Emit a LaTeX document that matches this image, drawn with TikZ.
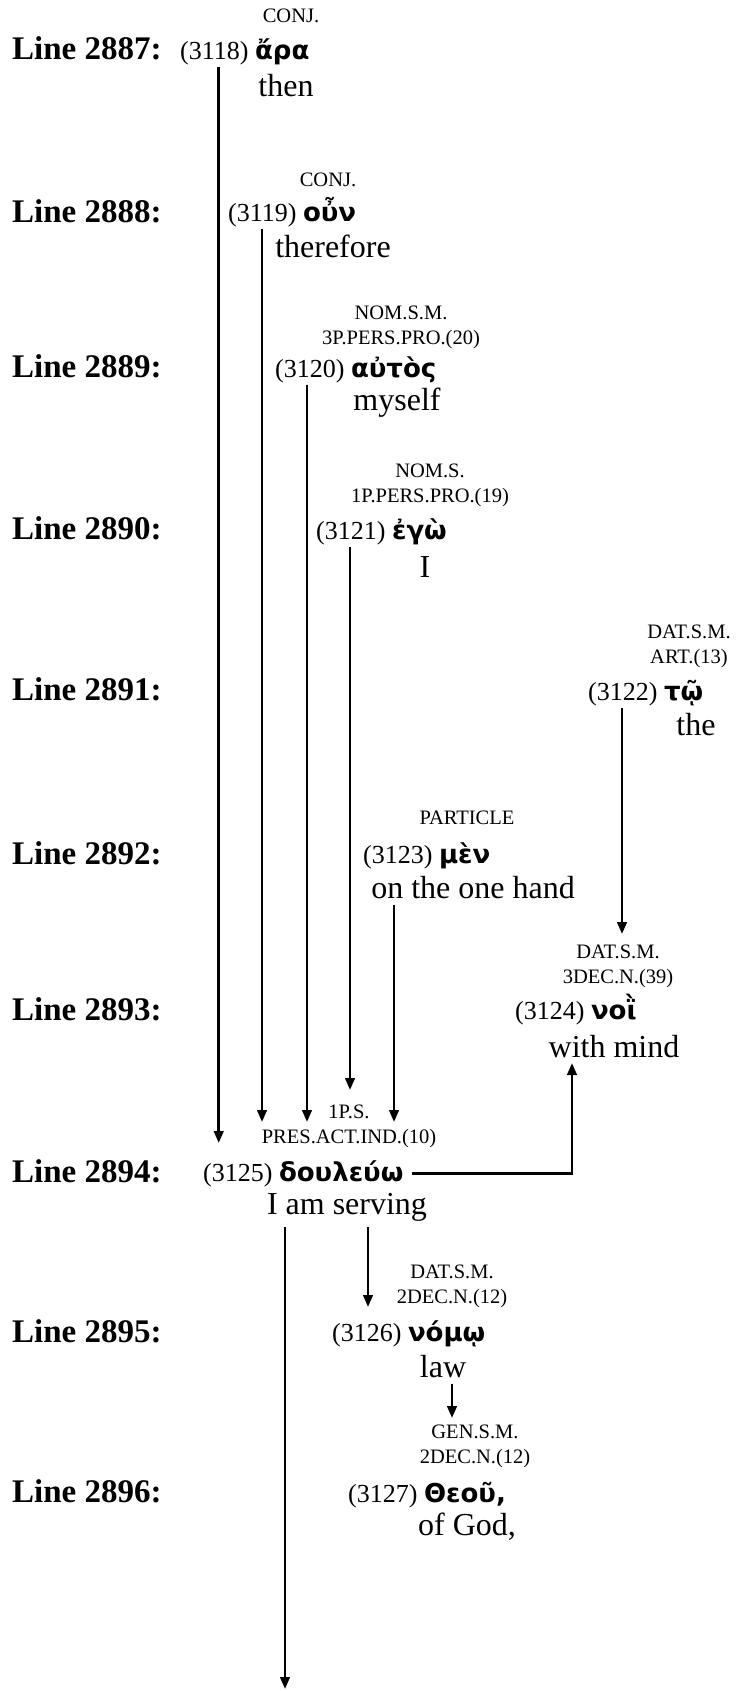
\documentclass[tikz,border=0pt]{standalone}
\usepackage{fontspec}
\setmainfont{Liberation Serif}
\newfontfamily\grkfont[Script=Greek]{DejaVu Sans}
\usetikzlibrary{arrows.meta}
\newcommand{\gk}[1]{{\grkfont\bfseries\fontsize{26}{30}\selectfont #1}}
\tikzset{
  % line numbers on the left
  lno/.style={anchor=base west, inner sep=0pt, font=\fontsize{33}{36}\selectfont\bfseries},
  % parsing tag above a word
  tg/.style={anchor=south, inner sep=0pt, align=center, font=\fontsize{20.5}{25}\selectfont},
  % word number + greek word
  hd/.style={anchor=base west, inner xsep=0pt, inner ysep=2pt, font=\fontsize{26}{30}\selectfont},
  % english gloss
  gl/.style={anchor=base, inner sep=0pt, font=\fontsize{32}{36}\selectfont},
  ar/.style={-{Triangle[length=12pt,width=9.5pt]}, line width=2.7pt}
}
\begin{document}
\begin{tikzpicture}[x=1pt,y=-1pt]
    \useasboundingbox (0,0) rectangle (736,1691);

    % ---- line labels ----
    \node[lno] (l2887) at (12,59.5) {Line 2887:};
    \node[lno] (l2888) at (12,222)  {Line 2888:};
    \node[lno] (l2889) at (12,377)  {Line 2889:};
    \node[lno] (l2890) at (12,539)  {Line 2890:};
    \node[lno] (l2891) at (12,700)  {Line 2891:};
    \node[lno] (l2892) at (12,864)  {Line 2892:};
    \node[lno] (l2893) at (12,1020) {Line 2893:};
    \node[lno] (l2894) at (12,1182) {Line 2894:};
    \node[lno] (l2895) at (12,1342) {Line 2895:};
    \node[lno] (l2896) at (12,1502) {Line 2896:};

    % ---- words: tag, head, gloss ----
    \node[tg] (t3118) at (291,23) {CONJ.};
    \node[hd] (h3118) at (180,59.5) {(3118) \gk{ἄρα}};
    \node[gl] (g3118) at (286,97) {then};

    \node[tg] (t3119) at (328,187) {CONJ.};
    \node[hd] (h3119) at (228,221) {(3119) \gk{οὖν}};
    \node[gl] (g3119) at (333,257) {therefore};

    \node[tg] (t3120) at (401,349) {NOM.S.M.\\3P.PERS.PRO.(20)};
    \node[hd] (h3120) at (275,377) {(3120) \gk{αὐτὸς}};
    \node[gl] (g3120) at (397,410) {myself};

    \node[tg] (t3121) at (430,507) {NOM.S.\\1P.PERS.PRO.(19)};
    \node[hd] (h3121) at (316,539) {(3121) \gk{ἐγὼ}};
    \node[gl] (g3121) at (425,577) {I};

    \node[tg] (t3122) at (689,668) {DAT.S.M.\\ART.(13)};
    \node[hd] (h3122) at (588,700) {(3122) \gk{τῷ}};
    \node[gl] (g3122) at (696,735) {the};

    \node[tg] (t3123) at (467,825) {PARTICLE};
    \node[hd] (h3123) at (363,863) {(3123) \gk{μὲν}};
    \node[gl] (g3123) at (473,898) {on the one hand};

    \node[tg] (t3124) at (618,988) {DAT.S.M.\\3DEC.N.(39)};
    \node[hd] (h3124) at (515,1019) {(3124) \gk{νοῒ}};
    \node[gl] (g3124) at (614,1057) {with mind};

    \node[tg] (t3125) at (349,1148) {1P.S.\\PRES.ACT.IND.(10)};
    \node[hd] (h3125) at (203,1181) {(3125) \gk{δουλεύω}};
    \node[gl] (g3125) at (347,1214) {I am serving};

    \node[tg] (t3126) at (452,1308) {DAT.S.M.\\2DEC.N.(12)};
    \node[hd] (h3126) at (332,1341) {(3126) \gk{νόμῳ}};
    \node[gl] (g3126) at (443,1377) {law};

    \node[tg] (t3127) at (475,1468) {GEN.S.M.\\2DEC.N.(12)};
    \node[hd] (h3127) at (348,1502) {(3127) \gk{Θεοῦ,}};
    \node[gl] (g3127) at (467,1535) {of God,};

    % ---- arrow ends ----
    \coordinate (e3118) at (218.7,1143);
    \coordinate (e3119) at (262,1122);
    \coordinate (e3120) at (307,1122);
    \coordinate (e3121) at (350,1090);
    \coordinate (e3123) at (394,1122);
    \coordinate (e3122) at (622,934);
    \coordinate (e3125) at (572,1063);
    \coordinate (e3126) at (368,1307);
    \coordinate (e3127) at (452,1418);
    \coordinate (eout)  at (285,1689);

    % ---- connectors ----
    \draw[ar] (h3118.south -| e3118) -- (e3118);
    \draw[ar] (h3119.south -| e3119) -- (e3119);
    \draw[ar] (h3120.south -| e3120) -- (e3120);
    \draw[ar] (h3121.south -| e3121) -- (e3121);
    \draw[ar] ([yshift=-6pt]g3123.south -| e3123) -- (e3123);
    \draw[ar] (h3122.south -| e3122) -- (e3122);
    \draw[ar] ([xshift=8pt]h3125.east) -| (e3125);
    \draw[ar] ([yshift=-6pt]g3125.south -| e3126) -- (e3126);
    \draw[ar] ([yshift=-6pt]g3126.south -| e3127) -- (e3127);
    \draw[ar] ([yshift=-6pt]g3125.south -| eout) -- (eout);
\end{tikzpicture}
\end{document}
